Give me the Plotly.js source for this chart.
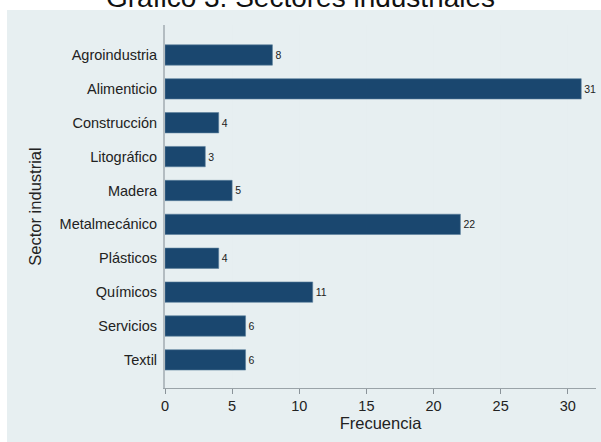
<!DOCTYPE html>
<html>
<head>
<meta charset="utf-8">
<script src="https://cdn.plot.ly/plotly-3.0.1.min.js"></script>
<style>html,body{margin:0;padding:0;background:#fff;}#chart{width:601px;height:442px;}</style>
</head>
<body>
<div id="chart"></div>
<script>
var categories = ["Agroindustria","Alimenticio","Construcción","Litográfico","Madera","Metalmecánico","Plásticos","Químicos","Servicios","Textil"];
var values = [8,31,4,3,5,22,4,11,6,6];
var xTickVals = [0,5,10,15,20,25,30];
var titleText = "Gráfico 3. Sectores industriales";
var xTitle = "Frecuencia";
var yTitle = "Sector industrial";

var font = "Liberation Sans, Arial, Helvetica, sans-serif";

var trace = {
  type: "bar",
  orientation: "h",
  y: categories,
  x: values,
  text: values.map(String),
  textposition: "outside",
  textfont: {family: font, size: 10.5, color: "#222"},
  cliponaxis: false,
  marker: {color: "#1a476f", line: {color: "#5a7f9c", width: 0.6}},
  hoverinfo: "none"
};

var layout = {
  width: 601, height: 442,
  margin: {l: 165, r: 5, t: 25, b: 54},
  paper_bgcolor: "#ffffff",
  plot_bgcolor: "#ffffff",
  bargap: 0.4,
  showlegend: false,
  font: {family: font, size: 14, color: "#222"},
  xaxis: {
    range: [0, 32.1],
    tickvals: xTickVals,
    ticks: "outside", ticklen: 5, tickcolor: "#8a9399", tickwidth: 1,
    showline: true, linecolor: "#9aa3a8", linewidth: 1,
    showgrid: true, gridcolor: "#e6eef0", gridwidth: 1,
    zeroline: false,
    tickfont: {family: font, size: 14.5, color: "#222"},
    title: {text: xTitle, font: {family: font, size: 16.5, color: "#222"}, standoff: 4}
  },
  yaxis: {
    type: "category",
    categoryorder: "array",
    categoryarray: categories,
    range: [9.83, -0.885],
    ticks: "", ticklabelstandoff: 3,
    showline: true, linecolor: "#b3bcc1", linewidth: 2,
    showgrid: false, zeroline: false,
    tickfont: {family: font, size: 14.5, color: "#222"},
    title: {text: yTitle, font: {family: font, size: 16.5, color: "#222"}, standoff: 14}
  },
  shapes: [{
    type: "rect", xref: "paper", yref: "paper", layer: "below",
    x0: -0.3666, x1: 1.0116, y0: -0.1488, y1: 1.0413,
    fillcolor: "#e7eff1", line: {width: 0}
  }],
  annotations: [{
    text: titleText, xref: "paper", yref: "paper",
    x: (300 - 165) / 431, y: 1.077, xanchor: "center", yanchor: "middle",
    showarrow: false, font: {family: font, size: 28, color: "#111"}
  }]
};

Plotly.newPlot("chart", [trace], layout, {displayModeBar: false, staticPlot: true});
</script>
</body>
</html>
